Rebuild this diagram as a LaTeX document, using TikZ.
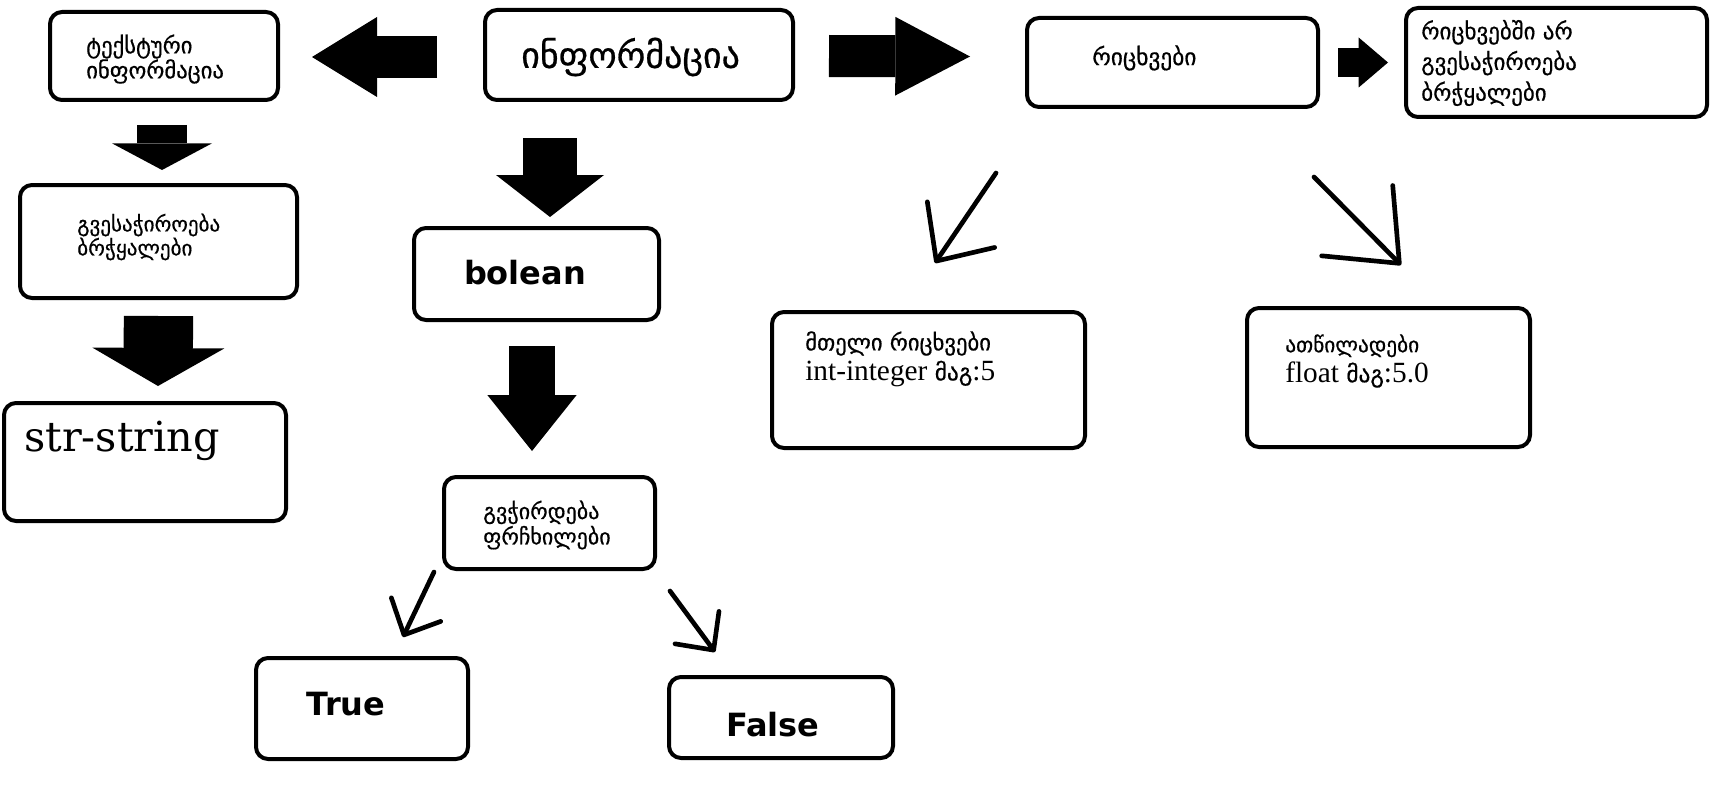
\documentclass[tikz,border=0pt]{standalone}
\usepackage{fontspec}
\setmainfont{DejaVu Serif}
\newfontfamily\geo{DejaVu Sans}
\newfontfamily\geob{DejaVu Sans}[FakeBold=0.6]
\newfontfamily\tms{Liberation Serif}
\usetikzlibrary{arrows.meta,fit}

\begin{document}
\begin{tikzpicture}[x=0.75pt,y=-0.75pt,
  box/.style={draw,rounded corners=9pt,line width=3pt,inner sep=0pt},
  txt/.style={inner sep=0pt,anchor=west,align=left},
  heavy/.style={inner sep=0pt,font=\geo\bfseries\fontsize{24}{28}\selectfont},
  fat/.style n args={3}{line width=#1,-{Triangle[length=#2,width=#3,line width=0pt]}},
  barb/.style n args={2}{line width=3.5pt,line cap=round,-{Straight Barb[length=#1,width=#2,round]}}]
\fill[white] (0,0) rectangle (1725,792);
\useasboundingbox (0,0) rectangle (1725,792);

\node[box,fit={(50,12) (278,100)}] (textinfo) {};
\node[box,fit={(485,10) (793,100)}] (info) {};
\node[box,fit={(1027,18) (1318,107)}] (numbers) {};
\node[box,fit={(1406,8) (1707,117)}] (noquotes) {};
\node[box,fit={(20,185) (297,298)}] (quotes) {};
\node[box,fit={(4,403) (286,521)}] (str) {};
\node[box,fit={(414,228) (659,320)}] (bool) {};
\node[box,fit={(444,477) (655,569)}] (parens) {};
\node[box,fit={(256,658) (468,759)}] (true) {};
\node[box,fit={(669,677) (893,758)}] (false) {};
\node[box,fit={(772,312) (1085,448)}] (int) {};
\node[box,fit={(1247,308) (1530,447)}] (float) {};

\node[txt,font=\geob\fontsize{27}{30}\selectfont] (info-t) at (521,57) {ინფორმაცია};
\node[txt,font=\geob\fontsize{17}{18.75}\selectfont] (textinfo-t) at (86,59) {ტექსტური\\ინფორმაცია};
\node[txt,font=\geob\fontsize{15.8}{15.75}\selectfont] (quotes-t) at (77,237) {გვესაჭიროება\\ბრჭყალები};
\node[txt,font=\geob\fontsize{17.5}{20}\selectfont] (numbers-t) at (1092,58) {რიცხვები};
\node[txt,font=\geob\fontsize{17.2}{23}\selectfont] (noquotes-t) at (1421,63) {რიცხვებში არ\\გვესაჭიროება\\ბრჭყალები};
\node[txt,font=\geob\fontsize{16.5}{19}\selectfont] (parens-t) at (483,525) {გვჭირდება\\ფრჩხილები};
\node[txt,font=\fontsize{31}{34}\selectfont] (str-t) at (24,441) {str-string};
\node[heavy] (bool-t) at (525,273) {bolean};
\node[heavy] (true-t) at (346,704) {True};
\node[heavy] (false-t) at (773,725) {False};
\node[txt,font=\tms\fontsize{22}{22.5}\selectfont] (int-t) at (805,359)
  {{\geob\fontsize{17}{22.5}\selectfont მთელი რიცხვები}\\int-integer {\geob\fontsize{17.5}{22.5}\selectfont მაგ}:5};
\node[txt,font=\tms\fontsize{22}{22.5}\selectfont] (float-t) at (1285,361)
  {{\geob\fontsize{16}{22.5}\selectfont ათწილადები}\\float {\geob\fontsize{17.5}{22.5}\selectfont მაგ}:5.0};

\draw[fat={31.5pt}{48.75pt}{60pt}] ([shift={(-46,2)}]info.west) -- ([shift={(32,1)}]textinfo.east);
\draw[fat={31.5pt}{56pt}{59pt}] ([shift={(34,1)}]info.east) -- ([shift={(-55,-6)}]numbers.west);
\draw[fat={22pt}{22pt}{37.5pt}] ([shift={(18,0)}]numbers.east) -- ([shift={(-16,0)}]noquotes.west);
\draw[fat={38pt}{20pt}{75pt}] ([shift={(-2,23)}]textinfo.south) -- ([shift={(3.5,-13)}]quotes.north);
\draw[fat={52pt}{28.5pt}{99pt}] ([shift={(0,16)}]quotes.south) -- ([shift={(13,-15)}]str.north);
\draw[fat={40.5pt}{31.5pt}{81pt}] ([shift={(-89,36)}]info.south) -- ([shift={(13.5,-9)}]bool.north);
\draw[fat={35pt}{42pt}{67pt}] ([shift={(-4.5,24)}]bool.south) -- ([shift={(-17.5,-24)}]parens.north);

\coordinate (a1) at (996,173);
\coordinate (a2) at (935,263);
\coordinate (b1) at (1314,177);
\coordinate (b2) at (1401,265);
\coordinate (c1) at (434,572);
\coordinate (c2) at (403,637);
\coordinate (d1) at (670,591);
\coordinate (d2) at (715,652);
\draw[barb={33pt}{61pt}] (a1) -- (a2);
\draw[barb={45pt}{75pt}] (b1) -- (b2);
\draw[barb={21pt}{41pt}] (c1) -- (c2);
\draw[barb={21pt}{41pt}] (d1) -- (d2);

\end{tikzpicture}
\end{document}
